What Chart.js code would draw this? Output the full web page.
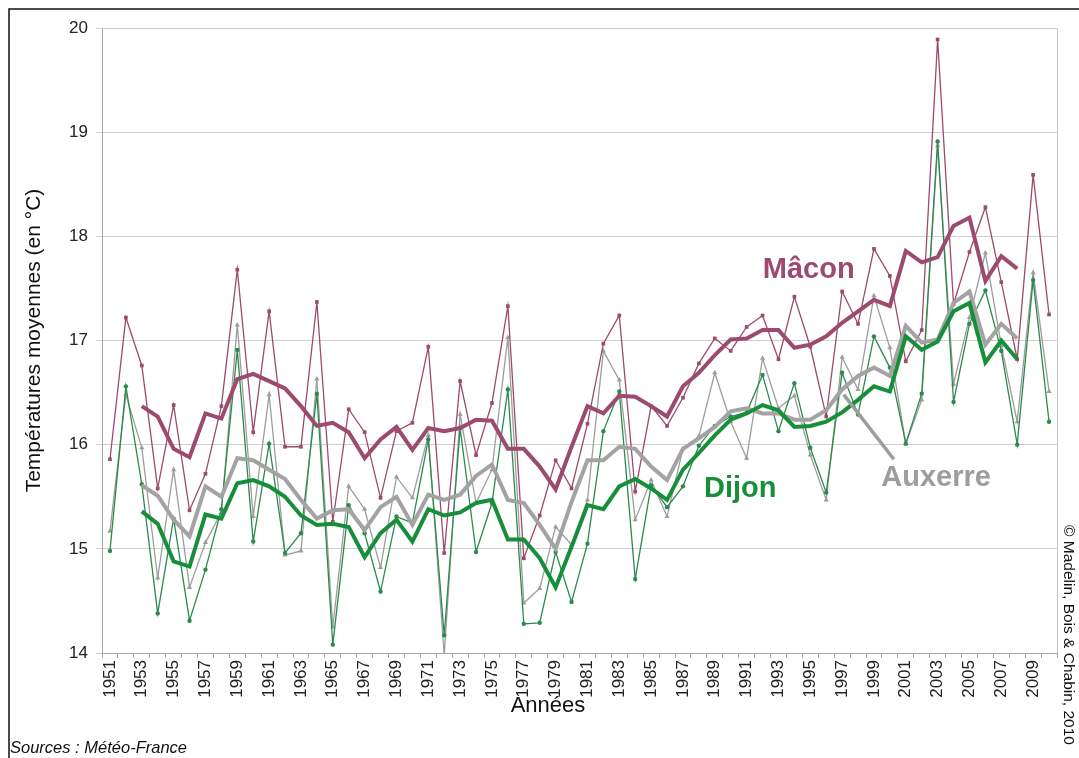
<!DOCTYPE html>
<html lang="fr">
<head>
<meta charset="utf-8">
<title>Températures moyennes – Mâcon, Auxerre, Dijon</title>
<script src="https://cdn.jsdelivr.net/npm/chart.js@4.4.1/dist/chart.umd.min.js"></script>
<style>
  html, body { margin: 0; padding: 0; background: #fff; }
  #wrap { width: 1079px; height: 758px; }
</style>
</head>
<body>
<div id="wrap"><canvas id="chart" width="1079" height="758"></canvas></div>
<script>
// ===============================
// DATA
// ===============================
const years = [
  "1951","1952","1953","1954","1955","1956","1957","1958","1959","1960",
  "1961","1962","1963","1964","1965","1966","1967","1968","1969","1970",
  "1971","1972","1973","1974","1975","1976","1977","1978","1979","1980",
  "1981","1982","1983","1984","1985","1986","1987","1988","1989","1990",
  "1991","1992","1993","1994","1995","1996","1997","1998","1999","2000",
  "2001","2002","2003","2004","2005","2006","2007","2008","2009","2010"
];

const yTicks = [14, 15, 16, 17, 18, 19, 20];

// annual means
const macon = [
  15.86, 17.22, 16.76, 15.58, 16.38, 15.37, 15.72, 16.37, 17.68, 16.12,
  17.28, 15.98, 15.98, 17.37, 15.26, 16.34, 16.12, 15.49, 16.13, 16.21,
  16.94, 14.96, 16.61, 15.90, 16.40, 17.33, 14.91, 15.32, 15.85, 15.58,
  16.20, 16.97, 17.24, 15.55, 16.37, 16.18, 16.45, 16.78, 17.02, 16.90,
  17.13, 17.24, 16.82, 17.42, 16.94, 16.27, 17.47, 17.16, 17.88, 17.62,
  16.80, 17.10, 19.89, 17.35, 17.85, 18.28, 17.56, 16.82, 18.59, 17.25
];
const auxerre = [
  15.17, 16.48, 15.97, 14.72, 15.76, 14.63, 15.06, 15.35, 17.15, 15.31,
  16.48, 14.94, 14.98, 16.63, 14.25, 15.60, 15.38, 14.82, 15.69, 15.49,
  16.09, 13.98, 16.29, 15.44, 15.76, 17.03, 14.48, 14.62, 15.21, 15.04,
  15.47, 16.90, 16.62, 15.28, 15.66, 15.31, 15.96, 16.08, 16.69, 16.22,
  15.87, 16.83, 16.35, 16.47, 15.90, 15.47, 16.84, 16.53, 17.43, 16.93,
  16.01, 16.43, 18.87, 16.58, 17.22, 17.84, 16.95, 16.22, 17.65, 16.51
];
const dijon = [
  14.98, 16.56, 15.62, 14.38, 15.29, 14.31, 14.80, 15.38, 16.91, 15.07,
  16.01, 14.96, 15.15, 16.49, 14.08, 15.42, 15.15, 14.59, 15.31, 15.25,
  16.05, 14.17, 16.16, 14.97, 15.44, 16.53, 14.28, 14.29, 14.97, 14.49,
  15.05, 16.13, 16.51, 14.71, 15.61, 15.40, 15.60, 15.99, 16.18, 16.27,
  16.31, 16.67, 16.13, 16.59, 15.97, 15.54, 16.69, 16.29, 17.04, 16.74,
  16.01, 16.49, 18.91, 16.41, 17.16, 17.48, 16.90, 16.00, 17.58, 16.22
];

// 5-year running means (1953-2008)
const maconMA = [
  null, null,
  16.37, 16.27, 15.96, 15.88, 16.30, 16.25, 16.63, 16.68, 16.61, 16.54,
  16.37, 16.18, 16.21, 16.12, 15.87, 16.05, 16.17, 15.95, 16.16, 16.13,
  16.16, 16.24, 16.23, 15.96, 15.96, 15.79, 15.57, 15.98, 16.37, 16.30,
  16.47, 16.46, 16.37, 16.27, 16.56, 16.69, 16.86, 17.01, 17.02, 17.10,
  17.10, 16.93, 16.96, 17.04, 17.17, 17.28, 17.39, 17.33, 17.86, 17.75,
  17.80, 18.10, 18.18, 17.57, 17.81, 17.69,
  null, null
];
const auxerreMA = [
  null, null,
  15.61, 15.51, 15.28, 15.12, 15.60, 15.50, 15.87, 15.85, 15.76, 15.67,
  15.47, 15.29, 15.37, 15.38, 15.18, 15.40, 15.50, 15.23, 15.52, 15.47,
  15.52, 15.70, 15.81, 15.47, 15.44, 15.23, 15.00, 15.45, 15.85, 15.85,
  15.98, 15.96, 15.79, 15.66, 15.96, 16.06, 16.17, 16.32, 16.35, 16.30,
  16.30, 16.24, 16.24, 16.33, 16.53, 16.66, 16.74, 16.66, 17.14, 16.98,
  17.01, 17.36, 17.47, 16.96, 17.16, 17.02,
  null, null
];
const dijonMA = [
  null, null,
  15.36, 15.24, 14.88, 14.83, 15.33, 15.29, 15.63, 15.66, 15.60, 15.50,
  15.32, 15.23, 15.24, 15.21, 14.92, 15.15, 15.28, 15.07, 15.38, 15.32,
  15.35, 15.44, 15.47, 15.09, 15.09, 14.91, 14.63, 15.02, 15.42, 15.38,
  15.60, 15.67, 15.58, 15.47, 15.76, 15.92, 16.09, 16.24, 16.30, 16.38,
  16.33, 16.17, 16.18, 16.22, 16.31, 16.43, 16.56, 16.51, 17.04, 16.91,
  16.99, 17.28, 17.36, 16.79, 17.00, 16.82,
  null, null
];

// ===============================
// COLOURS / FONTS
// ===============================
const PURPLE = "#9c4a6d";
const GREY = "#9d9d9d";
const GREEN = "#178f3a";
const FONT = "'Liberation Sans', Arial, sans-serif";

// ===============================
// ANNOTATIONS (labels, leader line, credits, frame)
// ===============================
const annotations = {
  id: "annotations",
  beforeDraw(chart) {
    const { ctx, width, height } = chart;
    ctx.save();
    ctx.fillStyle = "#fff";
    ctx.fillRect(0, 0, width, height);
    ctx.restore();
  },
  afterDatasetsDraw(chart) {
    const { ctx, chartArea: a, scales: { x, y } } = chart;
    ctx.save();
    // light frame on top/right of plot
    ctx.strokeStyle = "#c8c8c8";
    ctx.lineWidth = 1;
    ctx.beginPath();
    ctx.moveTo(a.left, a.top + 0.5);
    ctx.lineTo(a.right + 0.5, a.top + 0.5);
    ctx.lineTo(a.right + 0.5, a.bottom);
    ctx.stroke();

    // leader line for Auxerre
    ctx.strokeStyle = GREY;
    ctx.lineWidth = 3.5;
    ctx.beginPath();
    ctx.moveTo(x.getPixelForValue(46.1), y.getPixelForValue(16.48));
    ctx.lineTo(x.getPixelForValue(49.25), y.getPixelForValue(15.86));
    ctx.stroke();

    // series labels
    ctx.font = "bold 29px " + FONT;
    ctx.textAlign = "center";
    ctx.textBaseline = "middle";
    ctx.fillStyle = PURPLE;
    ctx.fillText("Mâcon", x.getPixelForValue(43.9), y.getPixelForValue(17.68));
    ctx.fillStyle = GREEN;
    ctx.fillText("Dijon", x.getPixelForValue(39.6), y.getPixelForValue(15.57));
    ctx.fillStyle = GREY;
    ctx.fillText("Auxerre", x.getPixelForValue(51.9), y.getPixelForValue(15.68));
    ctx.restore();
  },
  afterDraw(chart) {
    const { ctx, width, height } = chart;
    ctx.save();
    // outer frame
    ctx.strokeStyle = "#111";
    ctx.lineWidth = 1.5;
    ctx.beginPath();
    ctx.moveTo(9, height);
    ctx.lineTo(9, 9);
    ctx.lineTo(width, 9);
    ctx.stroke();

    // x title
    ctx.fillStyle = "#111";
    ctx.font = "22px " + FONT;
    ctx.textAlign = "center";
    ctx.textBaseline = "middle";
    ctx.fillText("Années", 548, 706);

    // sources
    ctx.font = "italic 16.5px " + FONT;
    ctx.textAlign = "left";
    ctx.textBaseline = "alphabetic";
    ctx.fillText("Sources : Météo-France", 10, 753);

    // copyright, vertical
    ctx.translate(1068, 635);
    ctx.rotate(Math.PI / 2);
    ctx.font = "15.5px " + FONT;
    ctx.textAlign = "center";
    ctx.textBaseline = "middle";
    ctx.fillText("© Madelin, Bois & Chabin, 2010", 0, 0);
    ctx.restore();
  }
};

// ===============================
// CHART
// ===============================
const thin = (data, color, style, r) => ({
  data,
  borderColor: color,
  backgroundColor: color,
  borderWidth: 1.3,
  pointStyle: style,
  pointRadius: r,
  pointBorderWidth: 0,
  tension: 0
});
const thick = (data, color) => ({
  data,
  borderColor: color,
  borderWidth: 4,
  pointRadius: 0,
  tension: 0,
  borderJoinStyle: "miter"
});

new Chart(document.getElementById("chart"), {
  type: "line",
  data: {
    labels: years,
    datasets: [
      // dataset 0 is drawn on top
      { label: "Mâcon (moyenne mobile)", ...thick(maconMA, PURPLE) },
      { label: "Dijon (moyenne mobile)", ...thick(dijonMA, GREEN) },
      { label: "Auxerre (moyenne mobile)", ...thick(auxerreMA, "#a3a3a3") },
      { label: "Mâcon", ...thin(macon, PURPLE, "rect", 2.6) },
      { label: "Dijon", ...thin(dijon, "#2b8a4f", "circle", 2.2) },
      { label: "Auxerre", ...thin(auxerre, GREY, "triangle", 3) }
    ]
  },
  options: {
    responsive: false,
    animation: false,
    layout: { padding: { top: 28, right: 22, left: 0, bottom: 0 } },
    plugins: {
      legend: { display: false },
      tooltip: { enabled: false }
    },
    scales: {
      x: {
        offset: true,
        grid: {
          offset: true,
          drawOnChartArea: false,
          drawTicks: true,
          tickLength: 5,
          color: "#a8a8a8"
        },
        border: { color: "#a8a8a8" },
        ticks: {
          autoSkip: false,
          maxRotation: 90,
          minRotation: 90,
          padding: 2,
          color: "#222",
          font: { family: FONT, size: 17 },
          callback: (v, i) => (i % 2 === 0 ? years[i] : "")
        },
        afterFit: (s) => { s.height = 105; }
      },
      y: {
        min: yTicks[0],
        max: yTicks[yTicks.length - 1],
        afterBuildTicks: (s) => { s.ticks = yTicks.map(v => ({ value: v })); },
        grid: { color: "#cfcfcf", tickLength: 6, drawTicks: true },
        border: { color: "#a8a8a8" },
        ticks: {
          padding: 8,
          color: "#222",
          font: { family: FONT, size: 17 }
        },
        title: {
          display: true,
          text: "Températures moyennes (en °C)",
          color: "#111",
          font: { family: FONT, size: 21 },
          padding: { top: 22, bottom: 0 }
        },
        afterFit: (s) => { s.width = 102; }
      }
    }
  },
  plugins: [annotations]
});
</script>
</body>
</html>
